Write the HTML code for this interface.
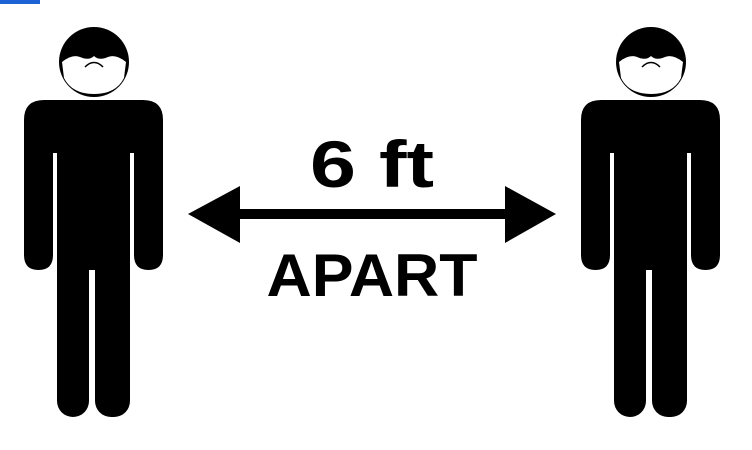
<!DOCTYPE html>
<html><head><meta charset="utf-8"><style>
html,body{margin:0;padding:0;background:#fff;width:752px;height:450px;overflow:hidden}
svg{display:block}
text{font-family:"Liberation Sans",sans-serif;font-weight:bold;fill:#000}
</style></head><body>
<svg width="752" height="450" viewBox="0 0 752 450">
<rect x="0" y="0" width="40" height="4" fill="#1e63d6"/>
<defs>
<g id="person">
  <circle cx="0" cy="62" r="35" fill="#000"/>
  <path d="M-32,62 Q-22,54 -14,57 Q-5,61 0,56 Q5,61 14,57 Q22,54 32,62 L30,78 Q22,94 0,94 Q-22,94 -30,78 Z" fill="#fff"/>
  <path d="M-9,67 Q0,58 9,67" stroke="#000" stroke-width="1.5" fill="none"/>
  <path d="M-70,120 Q-70,100 -50,100 L49,100 Q69,100 69,120 L69,255 Q69,270 54.5,270 Q40,270 40,255 L40,153 L-41,153 L-41,255 Q-41,270 -55.5,270 Q-70,270 -70,255 Z" fill="#000"/>
  <rect x="-37" y="150" width="73" height="120" fill="#000"/>
  <rect x="-37" y="250" width="32" height="167" rx="16" fill="#000"/>
  <rect x="1" y="250" width="35" height="167" rx="16" fill="#000"/>
</g>
</defs>
<use href="#person" x="94" y="0"/>
<use href="#person" x="651" y="0"/>
<g>
  <rect x="230" y="209" width="285" height="10" fill="#000"/>
  <polygon points="188,214 240,186 240,243" fill="#000"/>
  <polygon points="556,214 505,186 505,243" fill="#000"/>
</g>
<text x="372" y="187" font-size="66" text-anchor="middle" textLength="124" lengthAdjust="spacingAndGlyphs">6 ft</text>
<text x="372" y="296" font-size="60" text-anchor="middle" textLength="211" lengthAdjust="spacingAndGlyphs">APART</text>
</svg>
</body></html>
